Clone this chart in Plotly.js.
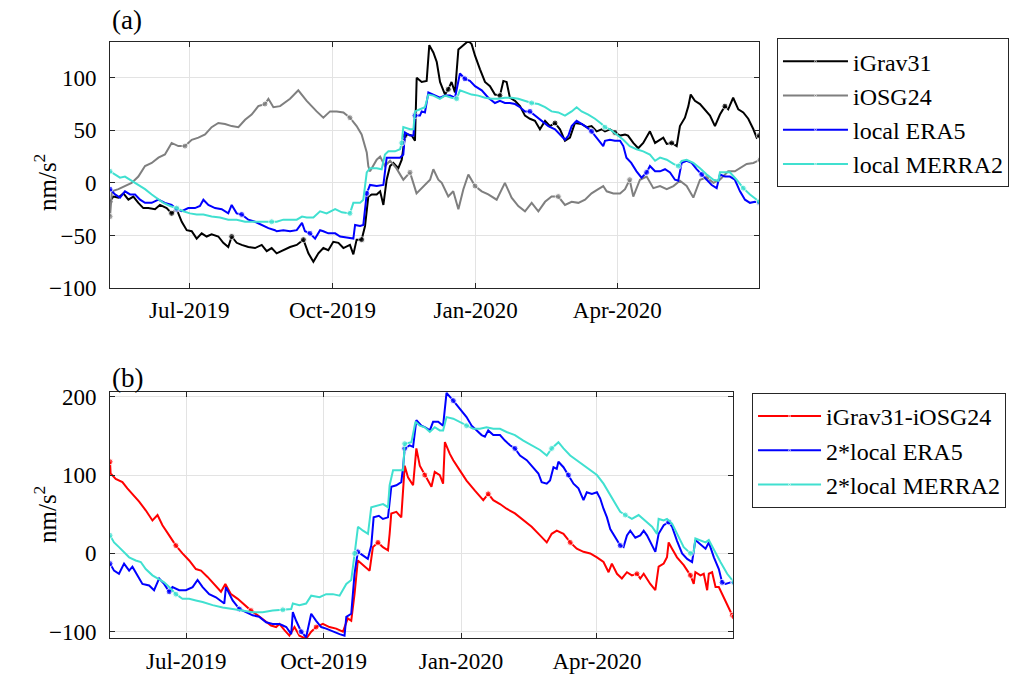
<!DOCTYPE html>
<html>
<head>
<meta charset="utf-8">
<script src="https://cdn.plot.ly/plotly-3.0.1.min.js"></script>
<style>html,body{margin:0;padding:0;background:#fff;}#chart{width:1035px;height:682px;}</style>
</head>
<body>
<div id="chart"></div>
<script>
// Day offsets from 2019-05-11, values in nm/s^2
const startDate = '2019-05-11';
const xTickDates = ['2019-07-01', '2019-10-01', '2020-01-01', '2020-04-01'];

// ---- Panel (a) ----
const igravDays = [0,2.1,5.4,8.6,11.8,15,18.2,21.4,24.6,28.9,32.1,36.4,39.6,42.8,46.1,49.3,52.5,55.7,58.9,62.1,65.3,69.6,72.8,76,78.2,81.4,84.6,88.9,93.2,97.5,100.7,103.9,107.1,111.4,115.7,120,124.3,127.5,130.7,133.9,137.1,140.3,143.5,146.8,150,154.2,156.4,158.5,161.7,163.9,166,168.2,171.4,173.6,175.7,177.8,180,182.1,185.3,187.5,189.6,191.8,193.9,196,197.1,200.3,203.5,205.2,207.8,210,212.1,215.3,217.4,219.5,221.7,223.9,227.1,230.3,232.4,234.6,237.8,241,244.2,247.4,250.6,252.8,254.9,257,260.3,263.5,266.7,269.9,273.1,276.3,279.6,282.8,286,289.2,292.4,295.6,298.8,303.1,306.3,309.5,312.8,316,318.1,321.3,324.5,327.8,331,332.9,336.3,339.5,342.7,347,350.3,353.5,355.6,357.8,361,364.2,366.3,369.5,371.7,373.2,375.9,379.2,382.4,385.6,388.8,392,395.2,397.3,400.5,403.8,407,410.2,413.5,415.6,417.3];
const igravVals = [-18,-13,-14,-10,-16,-13,-19,-24,-24,-25,-21,-24,-29,-25,-37,-45,-46,-53,-48,-51,-49,-51,-57,-61,-51,-57,-59,-61,-62,-59,-65,-62,-67,-64,-61,-59,-54,-67,-75,-67,-62,-64,-56,-57,-62,-59,-68,-54,-54,-41,-13,-11,-11,-8,-21,3,16,19,14,22,45,46,45,40,100,96,97,131,124,115,96,84,89,96,86,127,131,135,132,121,108,96,92,84,83,97,96,81,78,73,64,61,59,51,59,54,57,51,40,43,57,56,53,54,49,51,49,51,48,45,46,45,38,33,38,49,38,41,43,37,38,35,54,62,73,84,78,75,70,64,54,65,73,70,81,70,67,61,51,43,45];

const iosgDays = [0,1.2,5.4,9.6,13.9,18.2,22.5,26.8,31.1,35.3,39.6,43.9,48.2,52.5,56.8,61.1,65.3,69.6,73.9,78.2,82.5,86.8,91,95.3,99.6,101.8,105,109.3,115.7,121,126.4,132.8,137.1,141.4,145.7,150,154.2,158.5,161.7,165,166,167.1,171.4,173.6,176.7,180,184,188.5,192.8,197,201.4,205.7,207.8,211,213.2,217.4,220.6,223.9,227.1,230.3,234.6,238.9,243.1,248.5,253.8,258.1,262.4,266.7,271,275.3,279.6,283.8,288.1,292.4,296.7,301,305.3,309.5,313.8,317,319.2,323.5,327.8,331,334,336.3,340.6,344.9,349.2,353.5,357.8,362.1,366.3,370.6,374.9,379.2,383.5,387.8,392,397.3,401.6,404.9,409.2,413.5,417.8];
const iosgVals = [-32,-8,-6,-3,0,6,16,19,24,27,38,35,35,41,43,46,53,57,56,54,53,60,65,73,75,80,72,73,80,88,78,68,62,68,68,67,62,54,46,29,16,11,22,25,16,21,14,3,10,-10,-3,3,13,3,0,-13,-8,-25,-6,8,-3,-8,-11,-16,0,-14,-22,-27,-19,-27,-18,-13,-13,-21,-18,-19,-16,-10,-6,-3,-8,-10,-10,-6,3,-13,3,6,-5,-3,-6,-3,2,-3,-14,3,5,0,3,11,11,14,18,19,22];

const era5aDays = [0,3.2,6.4,9.6,12.9,16.1,19.3,22.5,26.8,31.1,35.3,39.6,42.8,46.1,50.3,54.6,57.8,60,63.2,67.5,71.8,76,78.2,81.4,84.6,88.9,93.2,97.5,101.8,106,107.1,111.4,115.7,120,123.4,125.3,128.5,131.8,135,137.1,140.3,144.7,147.9,152.1,156.4,157.5,160.7,162.8,165,167.1,171.4,175.7,176.7,177.8,182.1,186.4,188.5,189.6,192.8,195,196,199.2,200.3,202.4,204.6,207.8,212,215.3,218.5,221.7,223.9,224.9,228.1,231.3,234.6,238.9,243.1,247.4,250.6,253.8,257,260.3,263.5,266.7,269.9,273.1,277.4,281.7,286,290.2,292.4,294.6,296.7,299.9,303.1,306.3,309.5,313.8,317,318.1,321.3,324.5,327.8,329.9,331.9,335,338.4,341.6,344.9,347,350.3,353.5,356.7,359.9,363.1,365.2,367.4,370.6,373.8,377,380.3,383.5,386.7,389.9,392,395.2,398.4,401.6,404.9,408.1,411.3,414.5,417.3];
const era5aVals = [-6,-11,-14,-8,-11,-11,-16,-19,-19,-16,-19,-21,-25,-27,-24,-24,-22,-16,-21,-24,-25,-29,-21,-29,-30,-35,-37,-40,-43,-45,-46,-45,-46,-45,-38,-46,-48,-53,-45,-46,-48,-48,-51,-52,-53,-40,-41,-40,-10,-2,-3,-2,14,24,24,24,27,48,45,45,64,64,68,67,86,84,81,83,83,81,99,104,99,97,92,88,81,76,78,76,76,75,72,68,68,64,59,54,51,45,41,45,54,59,56,53,49,41,35,40,41,40,40,35,24,19,11,5,10,16,11,11,13,10,3,2,19,21,19,13,8,3,-2,-5,8,6,6,3,-8,-16,-19,-18,-19];

const merra2aDays = [0,3.2,6.4,9.6,12.9,16.1,19.3,22.5,26.8,31.1,34.3,38.6,42.8,47.1,51.4,55.7,60,65.3,70.7,76,81.4,86.8,92.1,97.5,103.9,107.1,111.4,115.7,120,123.4,126.4,130.7,135,139.2,144.7,149,154.2,156.4,160.7,162.8,165,167.1,171.4,174.6,176.7,178.9,183.2,186.4,187.5,188.5,192.8,195,196,199.2,202.4,204.6,207.8,212,215.3,219.5,222.8,224.9,228.1,232.4,236.7,241,245.3,249.6,253.8,258.1,262.4,266.7,271,275.3,279.6,283.8,288.1,292.4,296.7,299.9,303.1,307.4,311.7,316,318.1,321.3,325.6,329.9,334,338.4,342.7,347,350.3,353.5,357.8,362.1,365.2,367.4,370.6,374.9,379.2,383.5,387.8,391,392,395.2,398.4,402.7,407,411.3,415.6,417.3];
const merra2aVals = [11,8,5,6,3,0,-3,-6,-11,-16,-19,-22,-24,-27,-29,-30,-30,-32,-33,-35,-35,-37,-37,-37,-37,-37,-35,-35,-35,-32,-33,-33,-27,-29,-25,-28,-29,-19,-19,-16,10,14,14,13,27,30,30,32,38,53,51,51,68,70,72,84,83,80,83,81,80,88,86,84,83,81,80,80,81,81,80,78,76,75,72,68,67,64,68,72,68,65,61,56,53,51,46,41,35,32,30,27,21,24,22,18,16,21,22,19,14,8,3,2,10,10,10,3,-5,-11,-16,-18];

// ---- Panel (b) ----
const diffDays = [0,0.4,3.8,8.3,11.6,15,19.5,23.9,28.4,31.8,35.1,39.6,44.1,48.5,53,57.5,60.9,65.3,69.8,74.3,77.2,81,85.5,89.9,94.4,98.9,103.4,107.8,111.2,113.4,116.8,120.1,123.5,126.8,131.3,134.7,138,142.5,146.9,151.4,155.9,159.2,161.5,163.7,165.9,169.3,173.8,176,179.4,182.7,186.1,187.2,188.3,191.7,195,197.3,199.5,202.9,205.1,207.4,210.7,215.2,217.4,220.8,223,224.2,227.5,229.8,234.2,238.7,244.3,249.9,253.2,256.6,261.1,265.5,271.1,276.7,282.3,287.9,292.4,295.7,299.1,303.6,308.1,312.5,317,321.5,326,330.4,333.8,336,339.4,342.7,346.1,349.4,352.8,355,357.3,361.7,365.1,367.3,370.7,372.9,374,376.3,379.6,384.1,388.6,390.8,391.9,395.3,397.5,399.8,400.9,403.1,405.4,407.6,411,414.3,416.6,417.7];
const diffVals = [117,102,95,91,83,76,66,55,42,49,36,23,10,0,-9,-20,-22,-30,-39,-49,-39,-52,-58,-66,-73,-79,-86,-92,-94,-90,-98,-105,-94,-105,-109,-100,-94,-90,-94,-96,-100,-83,-86,-52,-9,-15,-22,8,14,8,4,25,51,53,46,112,97,87,134,112,100,85,104,100,89,142,127,119,106,93,80,68,76,68,63,57,51,42,34,23,14,25,29,25,14,6,2,0,-5,-11,-24,-13,-26,-32,-24,-28,-26,-32,-26,-39,-47,-17,-13,-5,14,6,-5,-15,-28,-39,-24,-28,-26,-47,-26,-24,-43,-43,-56,-69,-79,-81];

const era5bDays = [0,2.7,6,9.4,12.8,15,18.3,21.7,26.2,29.5,32.9,36.2,39.6,41.8,46.3,50.8,55.3,58.6,62,66.4,70.9,76.5,77.6,82.1,86.6,91,95.5,100,104.5,108.9,113.4,115.7,118,121.3,122.4,124.6,128,131.3,134.7,138,141.4,144.7,149.2,153.7,157,158.2,161.5,163.7,165.9,169.3,172.6,174.9,176.5,180,182.7,186.1,188.3,191.7,195,196.2,197.3,200.6,202.9,205.1,208.5,211,214.1,216.3,219.7,223,224.2,225.3,229.8,234.2,238.7,242.1,245.4,248.8,251,253.2,256.6,261.1,264.4,267.8,271.1,274.5,279,283.4,286.8,289,292.4,294.6,296.9,299.1,300.2,303.6,306.9,310.3,313.6,317,319.2,322.6,326,328.2,330.4,332.7,334.9,338.3,341.6,343.8,346.1,348.3,351.7,355,357.3,359.5,362.9,365.1,367.3,370.7,374,376.3,379.6,383,386.4,389.7,391.9,395.3,398.7,400.9,404.3,407.6,409.8,412.1,415.4,417.7];
const era5bVals = [-13,-22,-26,-13,-22,-17,-28,-39,-41,-47,-32,-39,-49,-43,-47,-47,-43,-34,-43,-52,-56,-64,-43,-60,-71,-75,-79,-81,-88,-90,-90,-92,-94,-103,-75,-86,-100,-107,-77,-86,-94,-96,-100,-103,-105,-81,-77,-26,2,-3,-7,10,46,48,44,46,85,87,91,110,134,138,136,170,163,161,157,168,168,163,191,205,195,185,174,163,157,151,149,157,151,151,144,138,134,125,119,110,102,91,89,93,110,108,117,110,100,89,83,68,78,76,78,70,57,46,31,20,10,8,23,29,20,23,29,23,10,2,25,36,40,34,16,0,-7,-11,17,12,6,14,-5,-20,-37,-39,-37,-37];

const merra2bDays = [0,2.7,6,9.4,12.8,17.2,20.6,23.9,28.4,31.8,36.2,39.6,44.1,48.5,53,57.5,62,68.7,75.4,82.1,88.8,95.5,102.2,108.9,115.7,121.3,122.4,126.8,131.3,134.7,140.3,144.7,149.2,153.7,158.2,161.5,163.8,166,169.4,172.7,174.9,178.3,182.8,186.1,187.2,189.5,192.8,196.2,197.3,201.8,204.5,207.4,210.7,214.1,217.4,220.8,223,225.3,229.8,234.2,238.7,243.2,247.7,252.1,256.6,261.1,265.5,271.1,276.7,282.3,287.9,292.4,295.7,300.2,303.6,308.1,312.5,317,321.5,326,330.4,333.8,337.1,341.6,345,349.4,353.9,358.4,362.9,366.2,367.3,370.7,372.9,376.3,379.6,384.1,388.6,390.8,391.9,395.3,398.7,400.9,404.3,408.7,413.2,417.7];
const merra2bVals = [23,14,8,2,-5,-9,-11,-20,-28,-32,-37,-43,-52,-58,-58,-60,-62,-66,-69,-71,-73,-75,-75,-73,-72,-71,-64,-66,-64,-54,-56,-52,-52,-54,-39,-34,0,34,29,25,59,61,63,59,87,106,106,106,140,142,168,163,161,155,161,157,157,174,172,168,163,159,159,161,159,159,155,151,144,138,132,125,134,142,134,125,119,112,106,100,89,78,66,53,49,44,49,42,34,25,44,42,44,38,25,8,0,2,19,17,14,17,4,-11,-26,-37];

// ---- helpers ----
const baseMs = Date.parse(startDate + 'T00:00:00Z');
function toDates(days) {
  return days.map(d => new Date(baseMs + d * 86400000).toISOString().slice(0, 19).replace('T', ' '));
}
function markerSizes(n, every, size) {
  const s = [];
  for (let i = 0; i < n; i++) s.push(i % every === 0 || i === n - 1 ? size : 0);
  return s;
}

const SERIF = '"Liberation Serif", "Times New Roman", Times, serif';
const C_BLACK = '#000000', C_GRAY = '#7f7f7f', C_BLUE = '#0000ff', C_CYAN = '#40e0d0', C_RED = '#ff0000';

function series(name, days, vals, color, xa, ya, legend) {
  return {
    type: 'scatter', mode: 'lines+markers', name: name,
    x: toDates(days), y: vals, xaxis: xa, yaxis: ya, legend: legend,
    line: {color: color, width: 2},
    marker: {color: color, size: markerSizes(days.length, 12, 6)},
    hoverinfo: 'x+y+name'
  };
}

const traces = [
  series('iGrav31', igravDays, igravVals, C_BLACK, 'x', 'y', 'legend'),
  series('iOSG24', iosgDays, iosgVals, C_GRAY, 'x', 'y', 'legend'),
  series('local ERA5', era5aDays, era5aVals, C_BLUE, 'x', 'y', 'legend'),
  series('local MERRA2', merra2aDays, merra2aVals, C_CYAN, 'x', 'y', 'legend'),
  series('iGrav31-iOSG24', diffDays, diffVals, C_RED, 'x2', 'y2', 'legend2'),
  series('2*local ERA5', era5bDays, era5bVals, C_BLUE, 'x2', 'y2', 'legend2'),
  series('2*local MERRA2', merra2bDays, merra2bVals, C_CYAN, 'x2', 'y2', 'legend2')
];

const axisCommon = {
  showline: true, linecolor: '#262626', linewidth: 1, mirror: 'ticks',
  ticks: 'inside', ticklen: 5, tickcolor: '#262626', tickwidth: 1,
  showgrid: true, gridcolor: '#e3e3e3', gridwidth: 1, zeroline: false,
  tickfont: {family: SERIF, size: 23, color: '#000'}
};
const xRange = ['2019-05-11', '2020-07-01 02:00'];
const yTitleText = 'nm/s<sup>2</sup>';

const layout = {
  width: 1035, height: 682,
  margin: {l: 0, r: 0, t: 0, b: 0},
  paper_bgcolor: '#fff', plot_bgcolor: '#fff',
  font: {family: SERIF, size: 23, color: '#000'},
  showlegend: true,
  xaxis: Object.assign({}, axisCommon, {
    domain: [0.1063, 0.7333], anchor: 'y', type: 'date', range: xRange,
    tickvals: xTickDates, tickformat: '%b-%Y', ticklabelstandoff: 1
  }),
  yaxis: Object.assign({}, axisCommon, {
    domain: [0.5777, 0.9384], anchor: 'x', range: [-100, 134],
    tickvals: [-100, -50, 0, 50, 100], ticklabelstandoff: 8
  }),
  xaxis2: Object.assign({}, axisCommon, {
    domain: [0.1063, 0.7082], anchor: 'y2', type: 'date', range: xRange,
    tickvals: xTickDates, tickformat: '%b-%Y', ticklabelstandoff: 2
  }),
  yaxis2: Object.assign({}, axisCommon, {
    domain: [0.0645, 0.4252], anchor: 'x2', range: [-108, 206],
    tickvals: [-100, 0, 100, 200], ticklabelstandoff: 8
  }),
  legend: {
    x: 0.7507, y: 0.944, xanchor: 'left', yanchor: 'top',
    bgcolor: '#fff', bordercolor: '#262626', borderwidth: 1,
    font: {family: SERIF, size: 24, color: '#000'}, itemwidth: 65, tracegroupgap: 0
  },
  legend2: {
    x: 0.7266, y: 0.4238, xanchor: 'left', yanchor: 'top',
    bgcolor: '#fff', bordercolor: '#262626', borderwidth: 1,
    font: {family: SERIF, size: 24, color: '#000'}, itemwidth: 63, tracegroupgap: 0
  },
  annotations: [
    {text: '(a)', xref: 'paper', yref: 'paper', x: 0.1063, y: 0.9707, xanchor: 'left', yanchor: 'middle',
     showarrow: false, font: {family: SERIF, size: 27, color: '#000'}},
    {text: '(b)', xref: 'paper', yref: 'paper', x: 0.1063, y: 0.4457, xanchor: 'left', yanchor: 'middle',
     showarrow: false, font: {family: SERIF, size: 27, color: '#000'}},
    {text: yTitleText, xref: 'paper', yref: 'paper', x: 0.0435, y: 0.7317, xanchor: 'center', yanchor: 'middle',
     textangle: -90, showarrow: false, font: {family: SERIF, size: 25, color: '#000'}},
    {text: yTitleText, xref: 'paper', yref: 'paper', x: 0.0435, y: 0.2449, xanchor: 'center', yanchor: 'middle',
     textangle: -90, showarrow: false, font: {family: SERIF, size: 25, color: '#000'}}
  ]
};

Plotly.newPlot('chart', traces, layout, {displayModeBar: false});
</script>
</body>
</html>
